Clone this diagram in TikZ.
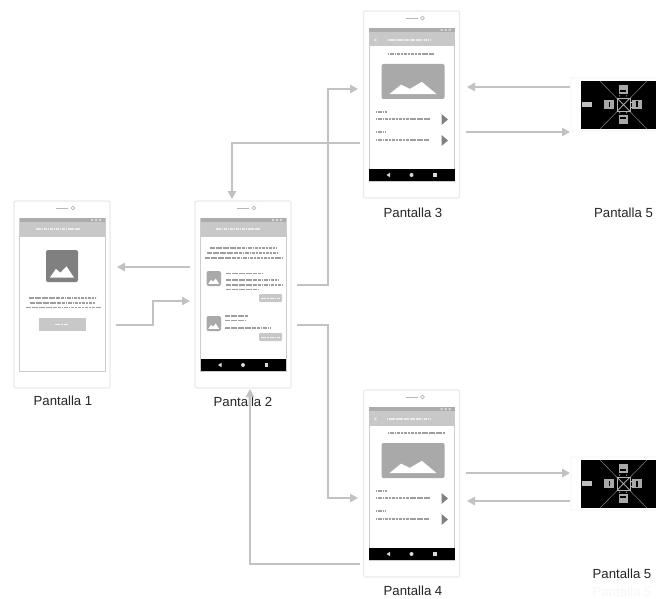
\documentclass[tikz,border=0pt]{standalone}
\usepackage{fontspec}
\setmainfont{Liberation Sans}
\usetikzlibrary{arrows.meta}
\definecolor{framec}{HTML}{EAEAEA}
\definecolor{barc}{HTML}{C8C8C8}
\definecolor{statusc}{HTML}{ACACAC}
\definecolor{imgc}{HTML}{A9A9A9}
\definecolor{darkimg}{HTML}{808080}
\definecolor{linkc}{HTML}{C2C2C2}
\definecolor{microc}{HTML}{9E9E9E}
\tikzset{
  x=1pt,y=-1pt,
  phoneframe/.style={draw=framec,line width=1.2pt,rounded corners=2pt,fill=white,minimum width=96pt,minimum height=187pt,anchor=north west,inner sep=0pt,outer sep=0pt},
  panelframe/.style={draw=framec!60,line width=.8pt,rounded corners=1pt,fill=white,minimum width=90pt,minimum height=53pt,anchor=north west,inner sep=0pt,outer sep=0pt},
  caption/.style={font=\fontsize{13.2pt}{15pt}\selectfont,text=black!85,inner sep=0pt},
  link/.style={draw=linkc,line width=1.5pt,-{Triangle[length=8pt,width=8.5pt,fill=linkc]}},
  micro/.style={draw=microc,line width=1.2pt,dash pattern=on 1.5pt off .5pt on .6pt off .5pt on 2pt off .8pt on .8pt off .4pt},
  microlight/.style={draw=white!92!black,line width=1.1pt,dash pattern=on 1.5pt off .5pt on .6pt off .5pt on 2pt off .8pt},
  microbtn/.style={draw=white!95!black,line width=.9pt,dash pattern=on 1.5pt off .6pt on .8pt off .5pt},
  navicon/.style={fill=white!85!black,draw=none},
}
% picture placeholder with mountains: x1,y1,x2,y2,colour
\newcommand{\imgbox}[5]{%
  \pgfmathsetmacro{\imgw}{#3-#1}\pgfmathsetmacro{\imgh}{#4-#2}
  \fill[#5,rounded corners=2pt] (#1,#2) rectangle (#3,#4);
  \begin{scope}[shift={(#1,#2)},x=\imgw pt,y=-\imgh pt]
    \fill[white] (.125,.86) -- (.31,.59) -- (.45,.71) -- (.64,.51) -- (.875,.86) -- cycle;
  \end{scope}}
% screen chrome; #1 x, #2 y of frame top left
\newcommand{\chrome}[2]{%
  \begin{scope}[shift={(#1,#2)}]
    \draw[draw=white!80!black,line width=.7pt] (5.5,17) rectangle (91,170);
    \fill[barc] (5.5,17) rectangle (91,35.5);
    \fill[statusc] (5.5,17) rectangle (91,21);
    \fill[white!85!black] (77,18) rectangle +(2,2) (81,18) rectangle +(2,2) (85,18) rectangle +(2,2);
    \draw[white!72!black,line width=.7pt] (42,7) -- (54,7);
    \draw[white!72!black,line width=.7pt] (59,7) circle (1.8);
  \end{scope}}
\newcommand{\navbar}[2]{%
  \begin{scope}[shift={(#1,#2)}]
    \fill[black] (5.5,158) rectangle (91,170);
    \fill[navicon] (23,164) -- (26.5,161.8) -- (26.5,166.2) -- cycle;
    \fill[navicon] (48,164) circle (2);
    \fill[navicon] (69.5,162) rectangle (73,166);
  \end{scope}}
% detail screen, used by Pantalla 3 and 4; #3 end of heading
\newcommand{\detail}[3]{%
  \chrome{#1}{#2}\navbar{#1}{#2}
  \begin{scope}[shift={(#1,#2)}]
    \draw[white!92!black,line width=.8pt] (13,27.5) -- (11,29) -- (13,30.5);
    \draw[microlight] (23,29) -- (67,29);
    \draw[micro] (24,43) -- (#3,43);
    \imgbox{18}{53}{81}{88}{imgc}
    \draw[micro] (12,101) -- (23,101);
    \draw[micro] (12,108) -- (67,108);
    \fill[darkimg] (78,103) -- (84.5,108.5) -- (78,114) -- cycle;
    \draw[micro] (12,121) -- (22,121);
    \draw[micro] (12,129) -- (65,129);
    \fill[darkimg] (78,124) -- (84.5,129.5) -- (78,135) -- cycle;
  \end{scope}}
% black control panel
\newcommand{\ctrlpanel}[2]{%
  \begin{scope}[shift={(#1,#2)}]
    \fill[black] (0,0) rectangle (75,48);
    \draw[white!45!black,line width=.6pt] (19,0) -- (66,48) (66,0) -- (19,48);
    \fill[white!75!black] (1,21) rectangle (11,26);
    \draw[white!70!black,line width=.9pt] (36,17) rectangle (49,30);
    \draw[white!70!black,line width=.6pt] (36,17) -- (49,30) (49,17) -- (36,30);
    \fill[imgc] (37.5,4) rectangle (47,13);
    \fill[imgc] (23,19) rectangle (33,28);
    \fill[imgc] (51,19) rectangle (61,28);
    \fill[imgc] (37.5,34) rectangle (47,43);
    \fill[black] (27.5,21) rectangle (29,26);
    \fill[black] (54.5,20.5) rectangle (56.5,26.5);
    \fill[black] (39,9) rectangle (45,11);
    \fill[black] (39,36) rectangle (45,38);
    \fill[white!75!black] (38,14.5) rectangle +(1,1) (45,14.5) rectangle +(1,1) (50,21) rectangle +(1,1) (50,26) rectangle +(1,1) (38,31.5) rectangle +(1,1) (45,31.5) rectangle +(1,1);
  \end{scope}}
\begin{document}
\begin{tikzpicture}
\useasboundingbox (0,0) rectangle (656,599);
\fill[white] (0,0) rectangle (656,599);

% frames
\node[phoneframe] (p1) at (14,201) {};
\node[phoneframe] (p2) at (195,201) {};
\node[phoneframe] (p3) at (363.5,11) {};
\node[phoneframe] (p4) at (363.5,390) {};
\node[panelframe] (p5a) at (571,78) {};
\node[panelframe] (p5b) at (571,457) {};

% Pantalla 1
\chrome{14}{201}
\draw[microlight] (36,229) -- (80,229);
\imgbox{46}{250}{78}{282}{darkimg}
\draw[micro] (29,298) -- (96,298);
\draw[micro] (30,303) -- (95,303);
\draw[micro] (26,307.5) -- (101,307.5);
\fill[barc] (39,318) rectangle (86,331);
\draw[microbtn] (55,324.5) -- (68,324.5);

% Pantalla 2
\chrome{195}{201}\navbar{195}{201}
\draw[microlight] (216,229) -- (260,229);
\draw[micro] (210,248) -- (276,248);
\draw[micro] (207,253) -- (278,253);
\draw[micro] (205,258) -- (282,258);
\imgbox{206.5}{271}{221}{286}{imgc}
\draw[micro] (226,273.5) -- (262,273.5);
\draw[micro] (226,280) -- (278,280);
\draw[micro] (226,285) -- (282,285);
\draw[micro] (226,289.5) -- (259,289.5);
\fill[barc,rounded corners=1pt] (259,294) rectangle (282,302);
\draw[microbtn] (261,298) -- (280,298);
\imgbox{206.5}{316}{221}{331}{imgc}
\draw[micro] (225,316) -- (248,316);
\draw[micro] (225,320.5) -- (246,320.5);
\draw[micro] (225,328) -- (270,328);
\fill[barc,rounded corners=1pt] (259,333) rectangle (282,341);
\draw[microbtn] (261,337) -- (280,337);

% Pantalla 3 and 4
\detail{363.5}{11}{70}
\detail{363.5}{390}{81}

% Pantalla 5 panels
\ctrlpanel{581}{81}
\ctrlpanel{581}{460}

% captions
\node[caption] (c1) at (63,401) {Pantalla 1};
\node[caption] (c2) at (243,402) {Pantalla 2};
\node[caption] (c3) at (413,213) {Pantalla 3};
\node[caption] (c4) at (413,591) {Pantalla 4};
\node[caption] (c5) at (623.5,213) {Pantalla 5};
\node[caption] (c6) at (622,574) {Pantalla 5};
\node[caption,text=black!3] (c7) at (622,591.5) {Pantalla 5};

% connector ends
\coordinate (a1s) at (190,267);  \coordinate (a1e) at (117,267);
\coordinate (a2s) at (116,325);  \coordinate (a2e) at (190,301);
\coordinate (a3s) at (297,285);  \coordinate (a3e) at (358,89);
\coordinate (a4s) at (360,143);  \coordinate (a4e) at (232,199);
\coordinate (a5s) at (297,325);  \coordinate (a5e) at (358,498);
\coordinate (a6s) at (360,564);  \coordinate (a6e) at (250,389);
\coordinate (a7s) at (570,87);   \coordinate (a7e) at (467,87);
\coordinate (a8s) at (466,132);  \coordinate (a8e) at (570,132);
\coordinate (a9s) at (466,473);  \coordinate (a9e) at (570,473);
\coordinate (a10s) at (570,501); \coordinate (a10e) at (467,501);

\draw[link] (a1s) -- (a1e);
\draw[link] (a2s) -- (153,325) -- (153,301) -- (a2e);
\draw[link] (a3s) -- (328,285) -- (328,89) -- (a3e);
\draw[link] (a4s) -- (232,143) -- (a4e);
\draw[link] (a5s) -- (328,325) -- (328,498) -- (a5e);
\draw[link] (a6s) -- (250,564) -- (a6e);
\draw[link] (a7s) -- (a7e);
\draw[link] (a8s) -- (a8e);
\draw[link] (a9s) -- (a9e);
\draw[link] (a10s) -- (a10e);
\end{tikzpicture}
\end{document}
